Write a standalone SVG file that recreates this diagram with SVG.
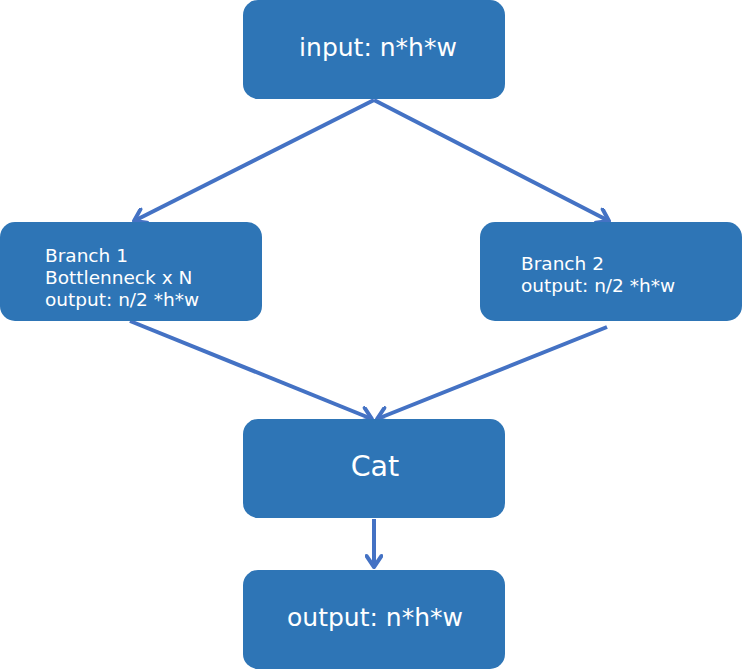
<svg xmlns="http://www.w3.org/2000/svg" width="743" height="670" viewBox="0 0 743 670">
<style>
.box{fill:#2E75B6;}
.t{fill:#ffffff;font-family:"DejaVu Sans",sans-serif;}
.c{stroke:#4472C4;stroke-width:4;fill:none;marker-end:url(#ah);}
</style>
<defs>
<marker id="ah" markerWidth="18" markerHeight="18" refX="14" refY="9" orient="auto" markerUnits="userSpaceOnUse" viewBox="0 0 18 18">
<path d="M3,1.5 L14,9 L3,16.5" fill="none" stroke="#4472C4" stroke-width="4" stroke-linecap="round" stroke-linejoin="round"/>
</marker>
</defs>
<rect width="743" height="670" fill="#ffffff"/>
<g id="connectors">
<line class="c" x1="374" y1="100" x2="134" y2="221"/>
<line class="c" x1="374" y1="100" x2="609" y2="221"/>
<line class="c" x1="130" y1="321" x2="372" y2="419"/>
<line class="c" x1="607" y1="327" x2="377" y2="419"/>
<line class="c" x1="374" y1="519" x2="374" y2="567"/>
</g>
<g id="input">
<rect class="box" x="243" y="0" width="262" height="99" rx="15"/>
<text class="t" x="378" y="56" font-size="25" text-anchor="middle">input: n*h*w</text>
</g>
<g id="branch1">
<rect class="box" x="0" y="222" width="262" height="99" rx="15"/>
<text class="t" font-size="18.5"><tspan x="45" y="262">Branch 1</tspan><tspan x="45" y="284">Bottlenneck x N</tspan><tspan x="45" y="306">output: n/2 *h*w</tspan></text>
</g>
<g id="branch2">
<rect class="box" x="480" y="222" width="262" height="99" rx="15"/>
<text class="t" font-size="18.5"><tspan x="521" y="270">Branch 2</tspan><tspan x="521" y="292">output: n/2 *h*w</tspan></text>
</g>
<g id="cat">
<rect class="box" x="243" y="419" width="262" height="99" rx="15"/>
<text class="t" x="375" y="476" font-size="28.5" text-anchor="middle">Cat</text>
</g>
<g id="output">
<rect class="box" x="243" y="570" width="262" height="99" rx="15"/>
<text class="t" x="375" y="626" font-size="25" text-anchor="middle">output: n*h*w</text>
</g>
</svg>
